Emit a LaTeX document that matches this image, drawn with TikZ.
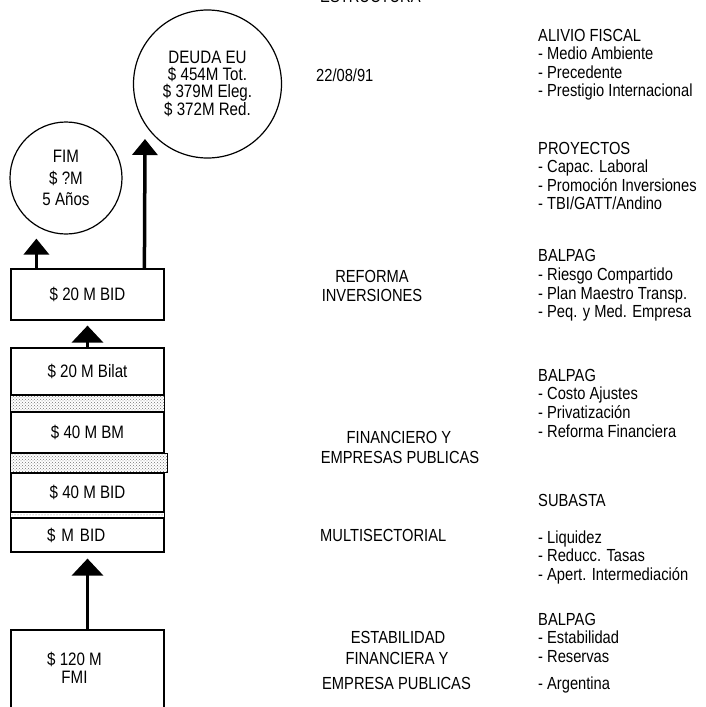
\documentclass[tikz,border=0pt]{standalone}
\usepackage{fontspec}
\setmainfont{Liberation Sans}[FakeStretch=0.84]
\usetikzlibrary{arrows.meta,patterns}

\begin{document}
\begin{tikzpicture}[x=1pt,y=-1pt,
  txt/.style={inner sep=0pt,font=\fontsize{17.5pt}{18.7pt}\selectfont},
  lft/.style={txt,anchor=base west},
  ctr/.style={txt,anchor=base},
  row/.style={draw,line width=1.2pt,minimum width=153pt,inner sep=0pt,
    font=\fontsize{18pt}{20pt}\selectfont},
  band/.style={draw,line width=1.5pt,pattern=crosshatch dots,pattern color=black!55},
  bubble/.style={circle,draw,line width=1.2pt,inner sep=0pt,align=center},
  bigarrow/.style={line width=3.5pt,-{Triangle[width=25pt,length=16pt]}},
  fatarrow/.style={line width=3.5pt,-{Triangle[width=31pt,length=17pt]}}]
\useasboundingbox (0,0) rectangle (705,707);
\clip (0,0) rectangle (705,707);
% circles
\node[bubble,minimum size=112pt,font=\fontsize{18pt}{21.5pt}\selectfont] (fim) at (66,178) {FIM\\\$ ?M\\5 Años};
\node[bubble,minimum size=148pt,font=\fontsize{18pt}{17pt}\selectfont] (deuda) at (207.5,84) {DEUDA EU\\\$ 454M Tot.\\\$ 379M Eleg.\\\$ 372M Red.};
% boxes
\node[row,minimum height=51pt] (bid20) at (87.5,294.5) {\$ 20 M BID};
\node[row,minimum height=47pt] (bilat) at (87.5,371.5) {\$ 20 M Bilat};
\node[row,minimum height=41pt] (bm40) at (87.5,432.5) {\$ 40 M BM};
\node[row,minimum height=39pt] (bid40) at (87.5,492.5) {\$ 40 M BID};
\node[row,minimum height=34pt,text width=81pt,align=left] (mbid) at (87.5,535) {\$ M BID};
\draw[band] (bilat.south west) rectangle (bm40.north east);
\draw[band] (bm40.south west) rectangle ([xshift=3pt]bid40.north east);
\draw[band,pattern=dots] (bid40.south west) rectangle (mbid.north east);
\node[row,minimum height=100pt] (fmibox) at (87.5,680) {};
\node[txt,align=center,font=\fontsize{18pt}{18pt}\selectfont] (fmi) at (74.5,668) {\$ 120 M\\FMI};
% arrows
\coordinate (fimfoot) at ([xshift=26pt]bid20.north west);
\coordinate (deudafoot) at ([xshift=134pt]bid20.north west);
\coordinate (deudatip) at (145,139);
\draw[bigarrow,shorten >=4pt] (fimfoot) -- (fimfoot |- fim.south);
\draw[bigarrow] (deudafoot) -- (deudatip);
\draw[fatarrow,shorten >=5pt] (bilat.north) -- (bid20.south);
\draw[fatarrow,shorten >=6pt] (fmibox.north) -- (mbid.south);
% middle column
\node[lft] (estr) at (320,2) {ESTRUCTURA};
\node[lft] (fecha) at (316,81.5) {22/08/91};
\node[ctr] (ref1) at (372,282.5) {REFORMA};
\node[ctr] (ref2) at (372,301.5) {INVERSIONES};
\node[ctr] (fin1) at (399,443.5) {FINANCIERO Y};
\node[ctr] (fin2) at (400,463.5) {EMPRESAS PUBLICAS};
\node[lft] (multi) at (320,541.5) {MULTISECTORIAL};
\node[ctr] (est1) at (398,643.5) {ESTABILIDAD};
\node[ctr] (est2) at (397,664.5) {FINANCIERA Y};
\node[ctr] (est3) at (396.5,689.5) {EMPRESA PUBLICAS};
% right column
\node[lft] (alivio) at (538,41) {ALIVIO FISCAL};
\node[lft] (alivio1) at (538,59.5) {- Medio Ambiente};
\node[lft] (alivio2) at (538,78) {- Precedente};
\node[lft] (alivio3) at (538,96.5) {- Prestigio Internacional};
\node[lft] (proy) at (538,154) {PROYECTOS};
\node[lft] (proy1) at (538,172.5) {- Capac. Laboral};
\node[lft] (proy2) at (538,191) {- Promoción Inversiones};
\node[lft] (proy3) at (538,209.5) {- TBI/GATT/Andino};
\node[lft] (bal1) at (538,261) {BALPAG};
\node[lft] (bal1a) at (538,280) {- Riesgo Compartido};
\node[lft] (bal1b) at (538,299) {- Plan Maestro Transp.};
\node[lft] (bal1c) at (538,317.5) {- Peq. y Med. Empresa};
\node[lft] (bal2) at (538,381) {BALPAG};
\node[lft] (bal2a) at (538,399.5) {- Costo Ajustes};
\node[lft] (bal2b) at (538,418) {- Privatización};
\node[lft] (bal2c) at (538,437) {- Reforma Financiera};
\node[lft] (sub) at (538,506) {SUBASTA};
\node[lft] (sub1) at (538,543) {- Liquidez};
\node[lft] (sub2) at (538,561.5) {- Reducc. Tasas};
\node[lft] (sub3) at (538,580) {- Apert. Intermediación};
\node[lft] (bal3) at (538,625) {BALPAG};
\node[lft] (bal3a) at (538,643.5) {- Estabilidad};
\node[lft] (bal3b) at (538,662) {- Reservas};
\node[lft] (bal3c) at (538,689) {- Argentina};
\end{tikzpicture}
\end{document}
